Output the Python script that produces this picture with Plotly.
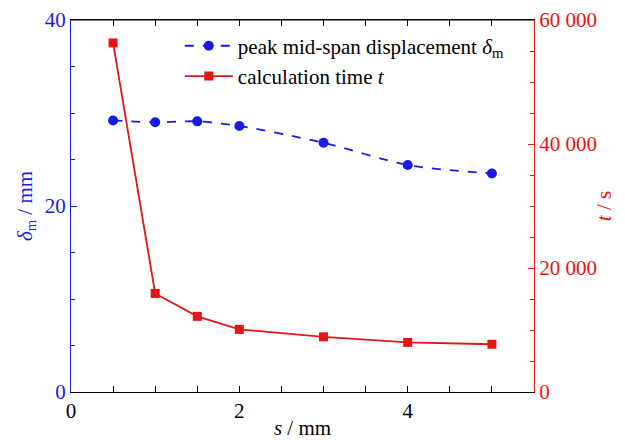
import plotly.graph_objects as go

s_mm = [0.5, 1, 1.5, 2, 3, 4, 5]
delta_m = [29.2, 29.0, 29.1, 28.6, 26.8, 24.4, 23.5]
calc_time = [56300, 15900, 12200, 10100, 8900, 8000, 7700]

blue = "#1a1ae6"
red = "#e61414"
font = "Liberation Serif, Times New Roman, serif"

fig = go.Figure()
fig.add_trace(go.Scatter(
    x=s_mm, y=delta_m, mode="lines+markers",
    name="peak mid-span displacement <i>δ</i><sub>m</sub>",
    line=dict(color=blue, dash="dash", width=1.8, shape="spline", smoothing=0.8),
    marker=dict(symbol="circle", size=10, color=blue),
))
fig.add_trace(go.Scatter(
    x=s_mm, y=calc_time, mode="lines+markers", yaxis="y2",
    name="calculation time <i>t</i>",
    line=dict(color=red, width=1.8),
    marker=dict(symbol="square", size=9, color=red),
))

fig.update_layout(
    width=625, height=440,
    margin=dict(l=71, r=91, t=20, b=48),
    paper_bgcolor="white", plot_bgcolor="white",
    font=dict(family=font, size=21, color="black"),
    separators=". ",
    showlegend=True,
    legend=dict(x=0.235, y=0.985, xanchor="left", yanchor="top",
                bgcolor="rgba(0,0,0,0)", font=dict(size=21, family=font),
                tracegroupgap=0, itemwidth=48),
    xaxis=dict(range=[0, 5.5], tick0=0, dtick=2, ticks="inside", ticklen=6,
               tickcolor="black", showline=True, linecolor="black", linewidth=1.2,
               mirror="allticks", showgrid=False, zeroline=False, automargin=False,
               minor=dict(dtick=0.5, ticks="inside", ticklen=4, tickcolor="black"),
               title=dict(text="<i>s</i> / mm", standoff=0, font=dict(size=21))),
    yaxis=dict(range=[0, 40], dtick=20, ticks="inside", ticklen=6,
               tickcolor=blue, showline=True, linecolor=blue, linewidth=1.2,
               tickfont=dict(color=blue), showgrid=False, zeroline=False, automargin=False,
               minor=dict(dtick=5, ticks="inside", ticklen=4, tickcolor=blue),
               title=dict(text="<i>δ</i><sub>m</sub> / mm", font=dict(color=blue, size=21), standoff=6)),
    yaxis2=dict(range=[0, 60000], dtick=20000, overlaying="y", side="right",
                ticks="inside", ticklen=6, tickcolor=red, showline=True,
                linecolor=red, linewidth=1.2, tickformat=",d", automargin=False,
                tickfont=dict(color=red), showgrid=False, zeroline=False,
                minor=dict(dtick=5000, ticks="inside", ticklen=4, tickcolor=red),
                title=dict(text="<i>t</i> / s", font=dict(color=red, size=21), standoff=0)),
)
fig.add_shape(type="line", xref="paper", yref="paper", x0=0, x1=1, y0=1, y1=1,
              line=dict(color="black", width=1.2), layer="above")

fig.write_html("out.html")
